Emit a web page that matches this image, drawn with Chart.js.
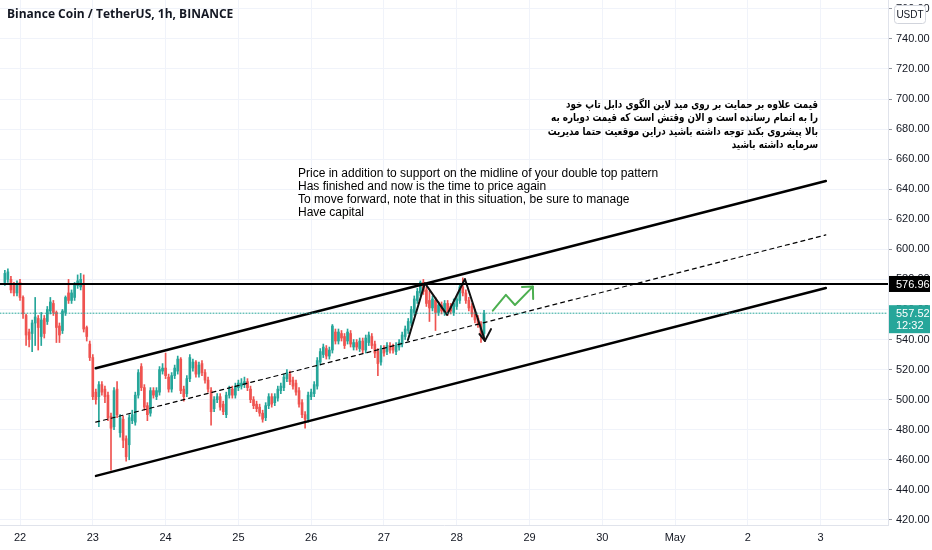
<!DOCTYPE html>
<html><head><meta charset="utf-8">
<script src="https://cdn.jsdelivr.net/npm/chart.js@4.4.1/dist/chart.umd.min.js"></script>
<style>html,body{margin:0;padding:0;background:#fff}#wrap{width:932px;height:550px;position:relative}</style>
</head><body><div id="wrap"><canvas id="c" width="932" height="550"></canvas></div>
<script>
// ---- data (hours relative to Apr 22 00:00) ----
const startHour = -5;
const opens  = [578,580,580,576,571,578,568,556,545,544,551,554,542,554,552,559,564,558,549,546,558,571,566,568,576,575,577,548,537,528,505,502,510,507,503,489,482,507,478,487,474,470,486,485,503,522,508,496,491,506,502,505,519,521,515,507,516,519,527,507,504,514,521,525,517,524,518,513,506,494,500,502,497,490,503,507,503,508,509,510,512,507,500,497,495,491,488,496,502,498,501,506,508,514,517,513,511,506,498,490,487,502,504,509,525,530,534,529,533,545,539,544,542,539,544,535,538,534,539,533,538,542,537,532,525,534,532,536,535,532,535,537,542,546,551,558,566,571,578,573,566,561,566,558,563,558,564,562,558,562,566,575,571,566,562,558,554,550,544];
const highs  = [586,587,582,578,579,580,569,557,547,553,568,556,558,556,562,568,566,559,551,560,569,580,573,578,583,584,583,549,539,530,507,512,512,509,505,491,508,512,490,489,476,490,493,505,520,524,510,498,508,508,508,522,524,531,517,518,523,529,528,509,516,530,527,526,525,526,520,515,508,502,504,504,499,505,509,509,511,513,514,515,514,509,502,499,497,493,498,504,504,504,509,511,517,520,519,515,513,508,500,492,505,507,512,528,534,537,536,535,550,547,547,546,544,547,546,540,540,541,541,543,545,544,539,534,536,536,538,538,537,538,540,545,549,554,562,569,574,579,580,575,572,569,568,565,565,566,566,564,567,569,577,581,573,568,564,560,556,552,559.5];
const lows   = [576,578,571,569,569,566,554,536,535,532,536,533,536,541,550,557,556,538,538,544,556,564,564,566,574,573,545,539,526,500,497,482,503,498,486,453,480,488,475,468,459,460,484,483,501,506,493,486,489,501,500,503,517,514,505,505,514,517,504,499,502,512,519,515,515,516,511,505,483,492,498,493,490,488,501,501,501,506,507,508,506,498,494,492,489,485,486,494,495,496,499,504,506,512,510,507,503,495,488,481,485,500,502,507,523,528,527,527,531,537,537,539,534,537,535,533,533,532,531,531,536,534,528,516,523,529,530,531,531,530,533,535,540,544,549,556,564,569,570,562,552,559,546,556,557,556,556,557,556,560,564,569,564,559,555,551,548,538,541];
const closes = [584,585,573,571,577,568,557,543,540,551,555,548,553,544,560,565,558,548,543,559,568,566,571,577,579,580,547,542,528,502,500,510,505,502,488,481,506,490,488,473,462,488,490,503,518,508,495,490,506,503,506,520,521,516,507,516,521,527,506,502,514,528,525,517,523,518,513,507,492,500,502,495,492,503,507,503,509,511,511,512,508,500,496,494,491,487,496,502,497,502,507,509,515,518,512,509,505,497,490,487,503,505,510,526,532,535,529,533,549,539,545,541,536,545,537,538,535,539,533,541,543,536,531,524,534,531,536,533,533,536,538,543,547,552,560,567,572,578,572,564,561,567,558,563,559,564,558,559,564,567,575,571,566,561,557,553,550,543,557.52];

const dayTicks  = [0,24,48,72,96,120,144,168,192,216,240,264];
const dayLabels = ['22','23','24','25','26','27','28','29','30','May','2','3'];
const priceTicks = [420,440,460,480,500,520,540,560,580,600,620,640,660,680,700,720,740,760];

const upperChannel = [[24.96,520.9],[265.7,645.5]];
const midChannel   = [[24.96,485.0],[265.7,609.6]];
const lowerChannel = [[25.06,449.3],[265.7,574.3]];
const resistance = 576.96;
const lastPrice = 557.52;
const countdown = '12:32';
const patternPath  = [[127.9,539.7],[133.5,577.5],[140.8,556.4],[146.7,580.3],[153.3,539.1]];
const patternArrow = [[151.5,543.6],[153.3,539.1],[155.3,546.9]];
const forecastPath  = [[155.9,559.2],[160.2,569.7],[163.2,563.0],[169.1,575.2]];
const forecastArrow = [[165.5,575.0],[169.1,575.2],[169.2,567.0]];

const titleText = 'Binance Coin / TetherUS, 1h, BINANCE';
const noteEn = [
  'Price in addition to support on the midline of your double top pattern',
  'Has finished and now is the time to price again',
  'To move forward, note that in this situation, be sure to manage',
  'Have capital'
];
const noteFa = [
  'قیمت علاوه بر حمایت بر روی مید لاین الگوی دابل تاپ خود',
  'را به اتمام رسانده است و الان وقتش است که قیمت دوباره به',
  'بالا پیشروی بکند توجه داشته باشید دراین موقعیت حتما مدیریت',
  'سرمایه داشته باشید'
];

const X_MIN = -6.6, X_MAX = 286.2, Y_MIN = 416.6, Y_MAX = 765.9;
const UP = '#26a69a', DOWN = '#ef5350';

// ---- build datasets ----
const hours = opens.map((_, i) => startHour + i);
const candleColors = opens.map((o, i) => closes[i] >= o ? UP : DOWN);
const pts = arr => arr.map(p => ({x: p[0], y: p[1]}));
const lineDs = (data, color, width, dash) => ({
  type: 'line', data: pts(data), borderColor: color, borderWidth: width,
  borderDash: dash || [], pointRadius: 0, fill: false, tension: 0, order: 0,
  borderCapStyle: 'round', borderJoinStyle: 'round'
});

const datasets = [
  {type:'bar', data: hours.map((h,i)=>({x:h, y:[lows[i], highs[i]]})), backgroundColor: candleColors, barThickness: 1, grouped:false, order: 3},
  {type:'bar', data: hours.map((h,i)=>({x:h, y:[opens[i], closes[i]]})), backgroundColor: candleColors, barThickness: 2, grouped:false, order: 2},
  lineDs([[X_MIN,lastPrice],[X_MAX,lastPrice]], UP, 1, [1,2]),
  lineDs([[X_MIN,resistance],[X_MAX,resistance]], '#000', 2),
  lineDs(upperChannel, '#000', 2.5),
  lineDs(lowerChannel, '#000', 2.5),
  lineDs(midChannel, '#000', 1.2, [4,4]),
  lineDs(patternPath, '#111', 2),
  lineDs(patternArrow, '#111', 2),
  lineDs(forecastPath, '#4caf50', 2),
  lineDs(forecastArrow, '#4caf50', 2)
];

const overlay = {
  id: 'overlay',
  afterDraw(chart) {
    const ctx = chart.ctx, y = chart.scales.y, area = chart.chartArea;
    ctx.save();
    // title
    ctx.fillStyle = '#131722';
    ctx.font = 'bold 12px "Open Sans", "Liberation Sans", sans-serif';
    ctx.textAlign = 'left'; ctx.textBaseline = 'middle';
    ctx.fillText(titleText, 7, 15);
    // english note
    ctx.font = '12px "Liberation Sans", sans-serif';
    ctx.fillStyle = '#000';
    noteEn.forEach((t, k) => ctx.fillText(t, 298, 174 + k * 13));
    // persian note (condensed horizontally to the width seen in the picture)
    ctx.font = 'bold 11px "DejaVu Sans", sans-serif';
    ctx.direction = 'rtl'; ctx.textAlign = 'right';
    const w0 = ctx.measureText(noteFa[0]).width;
    const sx = 252 / w0;
    noteFa.forEach((t, k) => {
      ctx.save();
      ctx.translate(818, 105 + k * 13.5);
      ctx.scale(sx, 1);
      ctx.fillText(t, 0, 0);
      ctx.restore();
    });
    ctx.direction = 'ltr'; ctx.textAlign = 'left';
    // right axis boxes
    const ax = area.right + 1;
    let py = y.getPixelForValue(resistance);
    ctx.fillStyle = '#000';
    ctx.fillRect(ax, py - 8, 41, 16);
    ctx.fillStyle = '#fff';
    ctx.font = '11px "Liberation Sans", sans-serif';
    ctx.fillText(resistance.toFixed(2), ax + 7, py + 0.5);
    py = y.getPixelForValue(lastPrice);
    ctx.fillStyle = UP;
    ctx.fillRect(ax, py - 8, 41, 28);
    ctx.fillStyle = '#fff';
    ctx.fillText(lastPrice.toFixed(2), ax + 7, py + 0.5);
    ctx.fillText(countdown, ax + 7, py + 13);
    // USDT box
    ctx.fillStyle = '#fff';
    ctx.strokeStyle = '#d1d4dc';
    ctx.lineWidth = 1;
    ctx.beginPath();
    ctx.roundRect(894.5, 5.5, 31, 18, 3);
    ctx.fill(); ctx.stroke();
    ctx.fillStyle = '#131722';
    ctx.font = '10px "Liberation Sans", sans-serif';
    ctx.textAlign = 'center';
    ctx.fillText('USDT', 910, 15);
    ctx.restore();
  }
};

new Chart(document.getElementById('c'), {
  type: 'bar',
  data: { datasets },
  options: {
    responsive: false, animation: false,
    layout: { padding: 0 },
    plugins: { legend: {display:false}, tooltip: {enabled:false} },
    scales: {
      x: {
        type: 'linear', min: X_MIN, max: X_MAX, offset: false,
        afterBuildTicks: s => { s.ticks = dayTicks.map(v => ({value: v})); },
        afterFit: s => { s.height = 25; s.paddingLeft = 0; s.paddingRight = 0; },
        grid: { color: '#f0f3fa', drawTicks: false, offset: false },
        border: { color: '#e0e3eb' },
        ticks: { padding: 6, color: '#131722', font: {size: 11, family: '"Liberation Sans", sans-serif'},
                 maxRotation: 0, autoSkip: false,
                 callback: v => { const k = dayTicks.indexOf(v); return k >= 0 ? dayLabels[k] : ''; } }
      },
      y: {
        position: 'right', min: Y_MIN, max: Y_MAX,
        afterBuildTicks: s => { s.ticks = priceTicks.filter(v => v <= Y_MAX).map(v => ({value: v})); },
        afterFit: s => { s.width = 44; s.paddingTop = 0; s.paddingBottom = 0; },
        grid: { color: '#f0f3fa', tickColor: '#9598a1', tickLength: 4 },
        border: { color: '#e0e3eb' },
        ticks: { padding: 4, color: '#131722', font: {size: 11, family: '"Liberation Sans", sans-serif'},
                 callback: v => v.toFixed(2) }
      }
    }
  },
  plugins: [overlay]
});
</script>
</body></html>
